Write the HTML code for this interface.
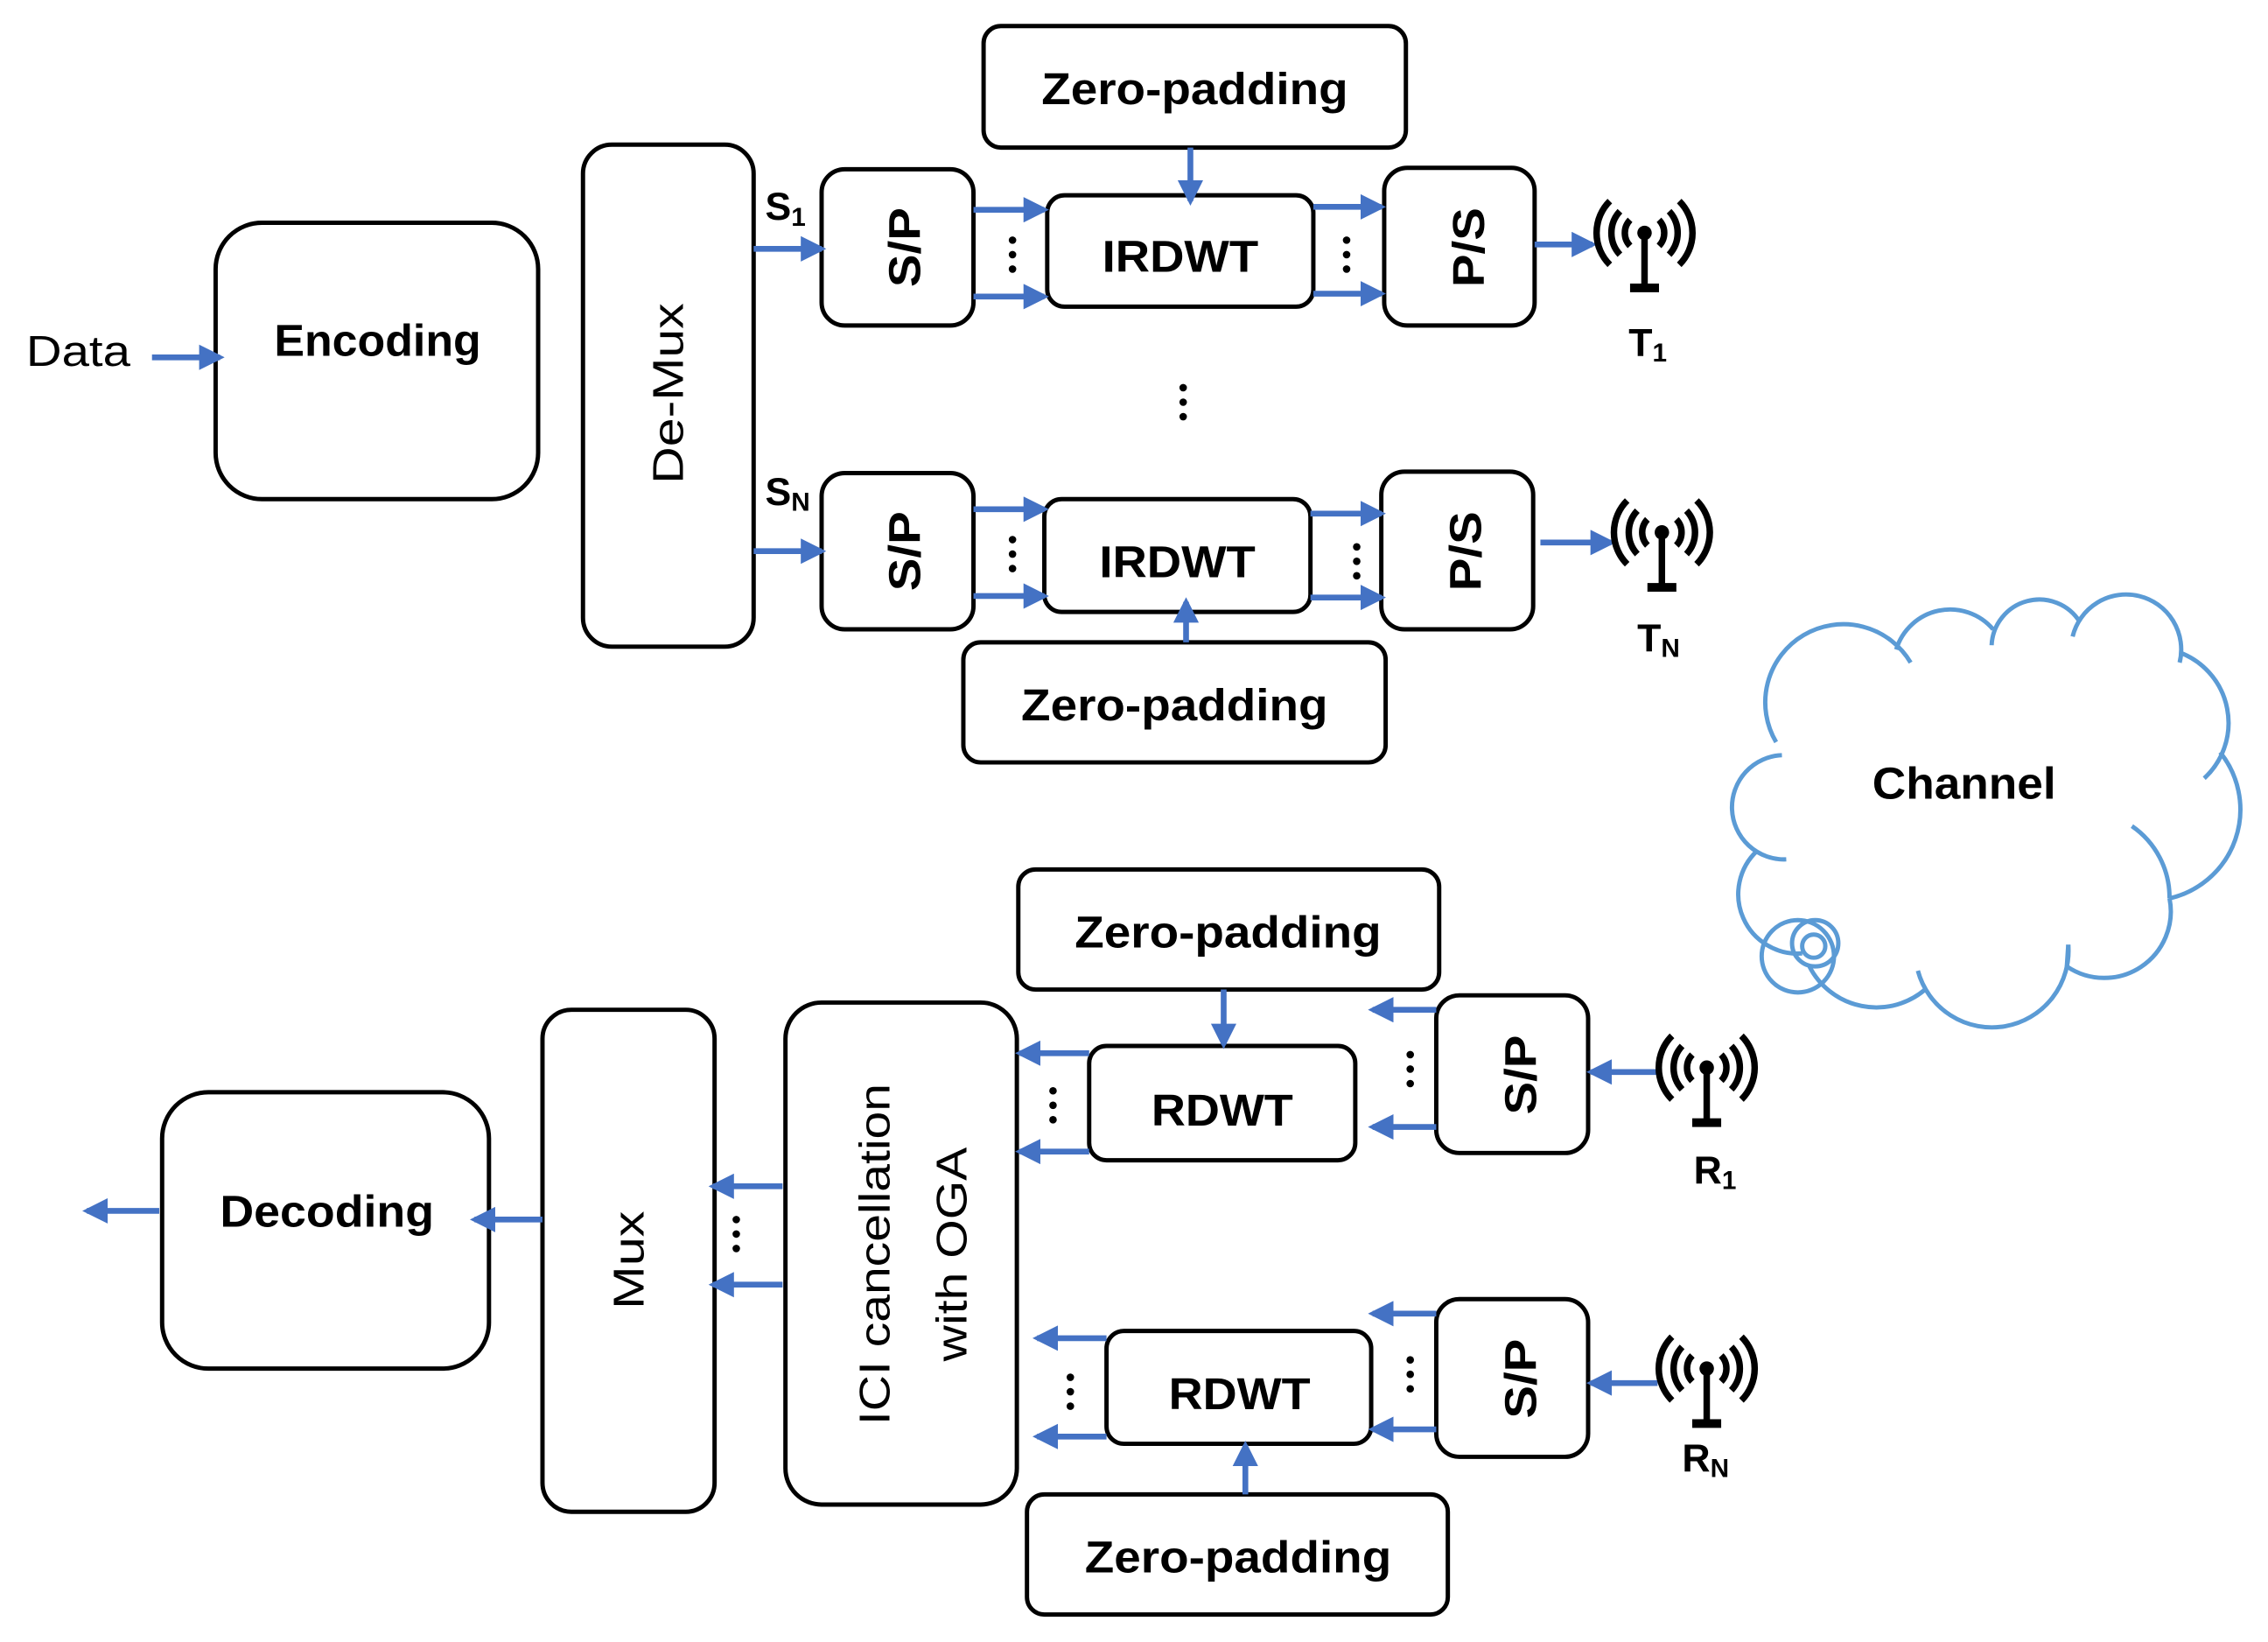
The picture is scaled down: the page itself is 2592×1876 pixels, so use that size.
<!DOCTYPE html>
<html><head><meta charset="utf-8"><style>html,body{margin:0;padding:0;background:#fff}svg{display:block}</style></head><body>
<svg width="2592" height="1876" viewBox="0 0 1568 1135" xmlns="http://www.w3.org/2000/svg" font-family="'Liberation Sans', 'DejaVu Sans', sans-serif">
<defs>
<marker id="ah" markerWidth="4.4" markerHeight="4.4" refX="3.6" refY="2.2" orient="auto" markerUnits="strokeWidth"><path d="M0,0 L4.4,2.2 L0,4.4 z" fill="#4472C4"/></marker>
<g id="ant" fill="none" stroke="#000" stroke-width="4.5" stroke-linecap="butt">
<circle cx="0" cy="0" r="5" fill="#000" stroke="none"/>
<line x1="0" y1="0" x2="0" y2="36"/>
<rect x="-10" y="35" width="20" height="6" fill="#000" stroke="none"/>
<path d="M-10,-9 A13,13 0 0 0 -10,9"/><path d="M10,-9 A13,13 0 0 1 10,9"/>
<path d="M-17,-15 A22,22 0 0 0 -17,15"/><path d="M17,-15 A22,22 0 0 1 17,15"/>
<path d="M-24,-22 A31,31 0 0 0 -24,22"/><path d="M24,-22 A31,31 0 0 1 24,22"/>
</g>
<g id="d3" fill="#000"><circle cx="0" cy="0" r="2.6"/><circle cx="0" cy="10" r="2.6"/><circle cx="0" cy="20" r="2.6"/></g>
</defs>
<g fill="#fff" stroke="#000" stroke-width="3">
<rect x="149" y="154" width="223" height="191" rx="32"/>
<rect x="403" y="100" width="118" height="347" rx="20"/>
<rect x="568" y="117" width="105" height="108" rx="16"/>
<rect x="724" y="135" width="184" height="77" rx="12"/>
<rect x="680" y="18" width="292" height="84" rx="12"/>
<rect x="957" y="116" width="104" height="109" rx="16"/>
<rect x="568" y="327" width="105" height="108" rx="16"/>
<rect x="722" y="345" width="184" height="78" rx="12"/>
<rect x="666" y="444" width="292" height="83" rx="12"/>
<rect x="955" y="326" width="105" height="109" rx="16"/>
<rect x="704" y="601" width="291" height="83" rx="12"/>
<rect x="753" y="723" width="184" height="79" rx="12"/>
<rect x="993" y="688" width="105" height="109" rx="16"/>
<rect x="543" y="693" width="160" height="347" rx="25"/>
<rect x="375" y="698" width="119" height="347" rx="20"/>
<rect x="112" y="755" width="226" height="191" rx="32"/>
<rect x="765" y="920" width="183" height="78" rx="12"/>
<rect x="993" y="898" width="105" height="109" rx="16"/>
<rect x="710" y="1033" width="291" height="83" rx="12"/>
</g>
<g stroke="#4472C4" stroke-width="4" marker-end="url(#ah)" fill="none">
<line x1="105" y1="247" x2="152" y2="247"/>
<line x1="521" y1="172" x2="568" y2="172"/>
<line x1="673" y1="145" x2="722" y2="145"/>
<line x1="673" y1="205" x2="722" y2="205"/>
<line x1="823" y1="102" x2="823" y2="139"/>
<line x1="908" y1="143" x2="955" y2="143"/>
<line x1="908" y1="203" x2="955" y2="203"/>
<line x1="1061" y1="169" x2="1101" y2="169"/>
<line x1="521" y1="381" x2="568" y2="381"/>
<line x1="673" y1="352" x2="722" y2="352"/>
<line x1="673" y1="412" x2="722" y2="412"/>
<line x1="820" y1="444" x2="820" y2="416"/>
<line x1="906" y1="355" x2="955" y2="355"/>
<line x1="906" y1="413" x2="955" y2="413"/>
<line x1="1065" y1="375" x2="1114" y2="375"/>
<line x1="846" y1="684" x2="846" y2="722"/>
<line x1="993" y1="698" x2="949" y2="698"/>
<line x1="993" y1="779" x2="949" y2="779"/>
<line x1="1146" y1="741" x2="1100" y2="741"/>
<line x1="753" y1="728" x2="705" y2="728"/>
<line x1="753" y1="796" x2="705" y2="796"/>
<line x1="541" y1="820" x2="493" y2="820"/>
<line x1="541" y1="888" x2="493" y2="888"/>
<line x1="375" y1="843" x2="328" y2="843"/>
<line x1="110" y1="837" x2="60" y2="837"/>
<line x1="765" y1="925" x2="717" y2="925"/>
<line x1="765" y1="993" x2="717" y2="993"/>
<line x1="993" y1="908" x2="949" y2="908"/>
<line x1="993" y1="988" x2="949" y2="988"/>
<line x1="1146" y1="956" x2="1100" y2="956"/>
<line x1="861" y1="1033" x2="861" y2="999"/>
</g>
<use href="#d3" x="700" y="166"/><use href="#d3" x="931" y="166"/>
<use href="#d3" x="818" y="268"/>
<use href="#d3" x="700" y="373"/><use href="#d3" x="938" y="378"/>
<use href="#d3" x="975" y="729"/><use href="#d3" x="728" y="754"/>
<use href="#d3" x="509" y="843"/>
<use href="#d3" x="975" y="940"/><use href="#d3" x="740" y="952"/>
<use href="#ant" x="1137" y="161"/>
<use href="#ant" x="1149" y="368"/>
<use href="#ant" x="1180" y="738"/>
<use href="#ant" x="1180" y="946"/>
<g fill="none" stroke="#5B9BD5" stroke-width="3">
<path d="M1228,513 A54,54 0 0 1 1321,458"/>
<path d="M1311,449 A39,39 0 0 1 1378,435"/>
<path d="M1377,446 A33,33 0 0 1 1438,430"/>
<path d="M1433,440 A38,38 0 0 1 1507,458"/>
<path d="M1507,451 A52,52 0 0 1 1524,538"/>
<path d="M1535,520 A63,63 0 0 1 1500,621"/>
<path d="M1474,571 A60,60 0 0 1 1500,621"/>
<path d="M1500,621 A46,46 0 0 1 1429,668 L1430,653"/>
<path d="M1430,653 A53,53 0 0 1 1326,671"/>
<path d="M1331,684 A52,52 0 0 1 1251,668"/>
<path d="M1246,659 A41,41 0 0 1 1215,588"/>
<path d="M1235,594 A36,36 0 0 1 1232,522"/>
<circle cx="1243" cy="661" r="25"/><circle cx="1255" cy="652" r="16"/><circle cx="1254" cy="654" r="8"/>
</g>
<g font-weight="bold" font-size="31" text-anchor="middle" fill="#000">
<text x="261" y="246" textLength="143" lengthAdjust="spacingAndGlyphs">Encoding</text>
<text x="816" y="188" textLength="108" lengthAdjust="spacingAndGlyphs">IRDWT</text>
<text x="826" y="72" textLength="212" lengthAdjust="spacingAndGlyphs">Zero-padding</text>
<text x="814" y="399" textLength="108" lengthAdjust="spacingAndGlyphs">IRDWT</text>
<text x="812" y="498" textLength="212" lengthAdjust="spacingAndGlyphs">Zero-padding</text>
<text x="849" y="655" textLength="212" lengthAdjust="spacingAndGlyphs">Zero-padding</text>
<text x="845" y="778" textLength="98" lengthAdjust="spacingAndGlyphs">RDWT</text>
<text x="857" y="974" textLength="98" lengthAdjust="spacingAndGlyphs">RDWT</text>
<text x="856" y="1087" textLength="212" lengthAdjust="spacingAndGlyphs">Zero-padding</text>
<text x="226" y="848" textLength="148" lengthAdjust="spacingAndGlyphs">Decoding</text>
<text x="1358" y="552" textLength="127" lengthAdjust="spacingAndGlyphs">Channel</text>
<text transform="translate(636,171) rotate(-90)" textLength="55" lengthAdjust="spacingAndGlyphs">S/P</text>
<text transform="translate(1026,171) rotate(-90)" textLength="55" lengthAdjust="spacingAndGlyphs">P/S</text>
<text transform="translate(636,381) rotate(-90)" textLength="55" lengthAdjust="spacingAndGlyphs">S/P</text>
<text transform="translate(1024,381) rotate(-90)" textLength="55" lengthAdjust="spacingAndGlyphs">P/S</text>
<text transform="translate(1062,743) rotate(-90)" textLength="55" lengthAdjust="spacingAndGlyphs">S/P</text>
<text transform="translate(1062,953) rotate(-90)" textLength="55" lengthAdjust="spacingAndGlyphs">S/P</text>
</g>
<g font-weight="bold" font-size="27" fill="#000">
<text x="529" y="152">S<tspan font-size="18" dy="4">1</tspan></text>
<text x="529" y="349">S<tspan font-size="18" dy="4">N</tspan></text>
<text x="1126" y="246">T<tspan font-size="18" dy="4">1</tspan></text>
<text x="1132" y="450">T<tspan font-size="18" dy="4">N</tspan></text>
<text x="1171" y="818">R<tspan font-size="18" dy="4">1</tspan></text>
<text x="1163" y="1017">R<tspan font-size="18" dy="4">N</tspan></text>
</g>
<g font-size="30" fill="#000" text-anchor="middle">
<text x="54" y="253" textLength="72" lengthAdjust="spacingAndGlyphs">Data</text>
<text transform="translate(472,272) rotate(-90)" textLength="125" lengthAdjust="spacingAndGlyphs">De-Mux</text>
<text transform="translate(445,871) rotate(-90)" textLength="68" lengthAdjust="spacingAndGlyphs">Mux</text>
<text transform="translate(615,867) rotate(-90)" textLength="236" lengthAdjust="spacingAndGlyphs">ICI cancellation</text>
<text transform="translate(668,867) rotate(-90)" textLength="148" lengthAdjust="spacingAndGlyphs">with OGA</text>
</g>
</svg>
</body></html>
